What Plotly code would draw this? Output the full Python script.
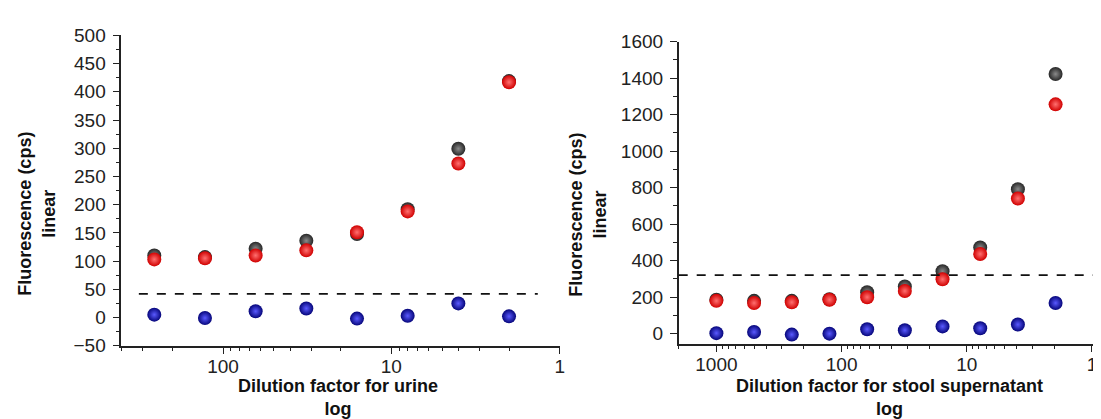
import plotly.graph_objects as go
import numpy as np

# ---------------- data ----------------
urine_dilution = [256, 128, 64, 32, 16, 8, 4, 2]
urine_black = [110, 107, 122, 136, 148, 192, 299, 419]
urine_red = [103, 105, 110, 119, 151, 188, 273, 417]
urine_blue = [5, -1, 11, 16, -2, 3, 25, 2]
urine_threshold = 42

stool_dilution = [1000, 500, 250, 125, 62.5, 31.25, 15.625, 7.8125, 3.90625, 1.953125]
stool_black = [186, 180, 180, 189, 227, 259, 342, 472, 792, 1423]
stool_red = [180, 168, 172, 186, 200, 234, 298, 437, 741, 1257]
stool_blue = [3, 9, -5, 0, 24, 19, 40, 30, 50, 168]
stool_threshold = 321

x_ticks = [1, 10, 100, 1000]
x_title_urine = "Dilution factor for urine<br>log"
x_title_stool = "Dilution factor for stool supernatant<br>log"
y_title = "Fluorescence (cps)<br>linear"

FONT = "Liberation Sans, Arial, sans-serif"
W, H = 1101, 419
MR = 12                # right margin so the last tick label is not dropped
PW = W - MR            # plot-area width in px

def fx(px):
    return px / PW

def fy(py):
    return 1 - py / H

fig = go.Figure()

# (edge colour, centre colour)
styles = [
    ("#262626", "#8a8a8a"),   # black sphere
    ("#d00000", "#ff7070"),   # red sphere
    ("#05057a", "#5a5aff"),   # blue sphere
]

def add_set(x, ys, xa, ya):
    for y, (edge, centre) in zip(ys, styles):
        fig.add_trace(go.Scatter(
            x=x, y=y, mode="markers", xaxis=xa, yaxis=ya, showlegend=False,
            marker=dict(size=14, color=edge, line=dict(width=0),
                        gradient=dict(type="radial", color=centre)),
        ))

add_set(urine_dilution, [urine_black, urine_red, urine_blue], "x", "y")
add_set(stool_dilution, [stool_black, stool_red, stool_blue], "x2", "y2")

tickfont = dict(family=FONT, size=19, color="#222")
common_x = dict(type="log", showline=True, linecolor="#222", linewidth=1.5,
                ticks="outside", ticklen=7, tickwidth=1.2, tickcolor="#222",
                showgrid=False, zeroline=False, tickfont=tickfont,
                tickmode="array", tickvals=x_ticks, ticktext=[str(v) for v in x_ticks],
                ticklabeloverflow="allow", ticklabelstandoff=-4,
                minor=dict(ticks="outside", ticklen=4, tickcolor="#222", showgrid=False,
                           dtick="D1"))
common_y = dict(showline=True, linecolor="#222", linewidth=1.5,
                ticks="outside", ticklen=7, tickwidth=1.2, tickcolor="#222",
                showgrid=False, zeroline=False, tickfont=tickfont,
                ticklabeloverflow="allow", ticklabelstandoff=3)

fig.update_layout(
    width=W, height=H,
    margin=dict(l=0, r=MR, t=0, b=0),
    paper_bgcolor="white", plot_bgcolor="white",
    xaxis=dict(common_x, domain=[fx(113.3), fx(551.7)], range=[np.log10(402), 0], anchor="y"),
    yaxis=dict(common_y, domain=[fy(345), fy(18.3)], range=[-50, 500], dtick=50,
               minor=dict(ticks="outside", ticklen=4, dtick=25, tickcolor="#222", showgrid=False),
               anchor="x"),
    xaxis2=dict(common_x, domain=[fx(670.7), fx(1089)], range=[np.log10(2000), -0.04], anchor="y2"),
    yaxis2=dict(common_y, domain=[fy(342.7), fy(25)], range=[-54, 1600], dtick=200,
                minor=dict(ticks="outside", ticklen=4, dtick=100, tickcolor="#222", showgrid=False),
                anchor="x2"),
)

fig.add_shape(type="line", xref="x domain", yref="y", x0=0.04, x1=0.95,
              y0=urine_threshold, y1=urine_threshold,
              line=dict(color="#111", width=1.8, dash="dash"))
fig.add_shape(type="line", xref="x2 domain", yref="y2", x0=0, x1=1.0,
              y0=stool_threshold, y1=stool_threshold,
              line=dict(color="#111", width=1.8, dash="dash"))

tfont = dict(family=FONT, size=18, color="#111")

def bold(t):
    return "<b>" + t.replace("<br>", "</b><br><b>") + "</b>"

fig.add_annotation(text=bold(x_title_urine), xref="paper", yref="paper",
                   x=fx(330), y=fy(399), xanchor="center", yanchor="middle",
                   showarrow=False, font=tfont, align="center")
fig.add_annotation(text=bold(x_title_stool), xref="paper", yref="paper",
                   x=fx(881), y=fy(399), xanchor="center", yanchor="middle",
                   showarrow=False, font=tfont, align="center")
fig.add_annotation(text=bold(y_title), xref="paper", yref="paper",
                   x=fx(29), y=fy(206), textangle=-90, xanchor="center", yanchor="middle",
                   showarrow=False, font=tfont, align="center")
fig.add_annotation(text=bold(y_title), xref="paper", yref="paper",
                   x=fx(580), y=fy(207), textangle=-90, xanchor="center", yanchor="middle",
                   showarrow=False, font=tfont, align="center")

fig.write_html("out.html")
